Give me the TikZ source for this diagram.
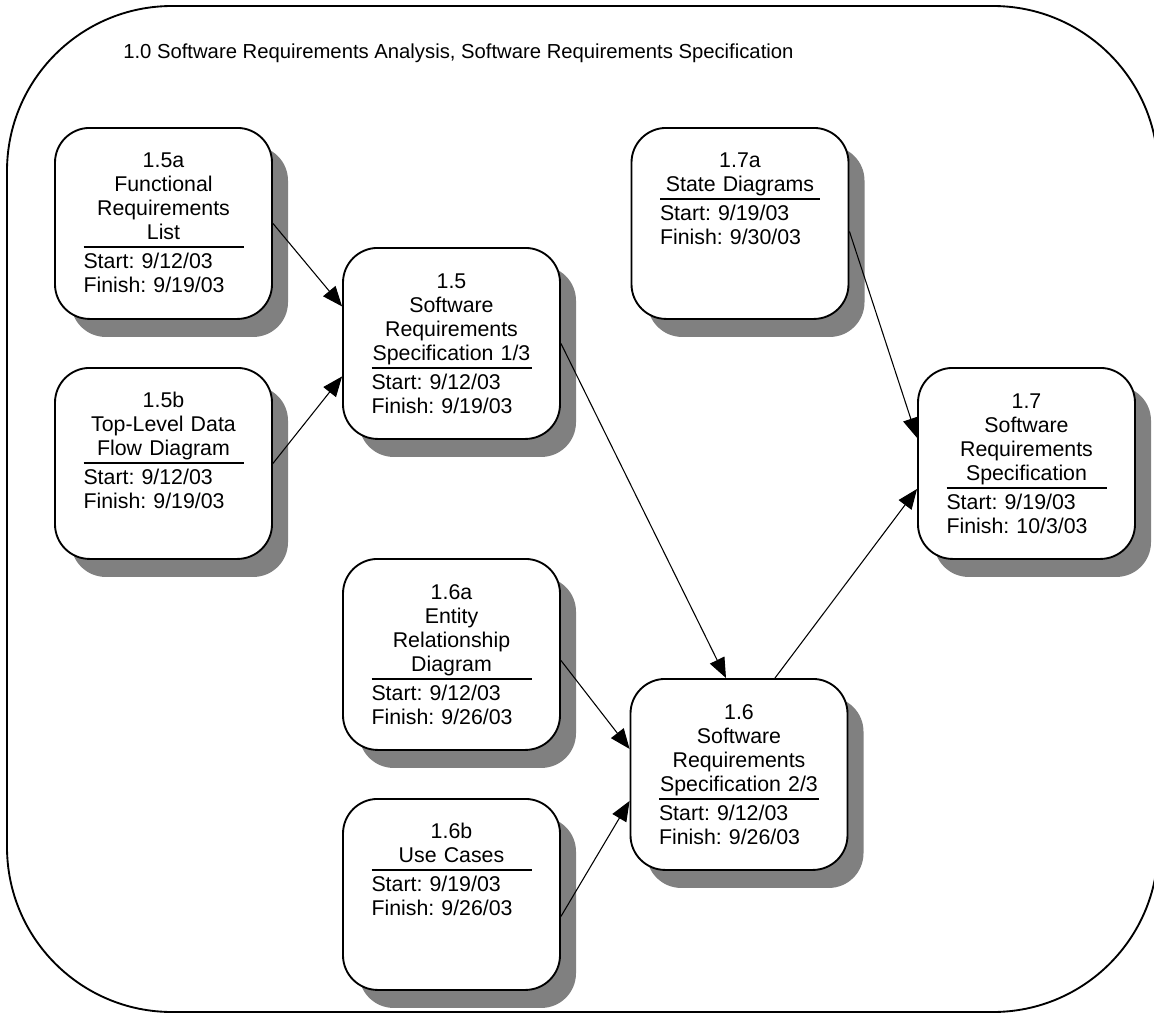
\documentclass[tikz,border=0pt]{standalone}
\usepackage{fontspec}
\setmainfont{Liberation Sans}
\usetikzlibrary{arrows.meta,shadows,calc}
\definecolor{shadowgray}{HTML}{808080}
\frenchspacing
\tikzset{
  taskbox/.style={draw=black, line width=1.4pt, fill=white, rounded corners=26pt,
    minimum width=162.75pt, minimum height=143.25pt, anchor=north, inner sep=0pt,
    drop shadow={shadow xshift=12pt, shadow yshift=-13.5pt, fill=shadowgray, opacity=1}},
  tasktitle/.style={anchor=south, inner sep=0pt, text width=120pt, align=center,
    font=\fontsize{16pt}{18pt}\selectfont},
  taskdates/.style={anchor=north, inner sep=0pt, text width=120pt, align=left,
    yshift=-3pt, font=\fontsize{16pt}{18pt}\selectfont},
  taskrule/.style={line width=1.3pt},
  conn/.style={line width=0.8pt, -{Triangle[length=15pt,width=12pt]}},
  frametitle/.style={anchor=base west, inner sep=0pt, font=\fontsize{15.2pt}{18pt}\selectfont}
}
\newcommand\pertask[7]{%
  \node[taskbox] (#1) at (#2,#3) {};
  \node[tasktitle] (#1t) at ($(#1.north)+(0,#4)$) {#5\strut};
  \node[taskdates] (#1d) at ($(#1.north)+(0,#4)$) {\strut Start: #6\\Finish: #7};
  \draw[taskrule] ($(#1.north)+(-80,#4)$) -- ($(#1.north)+(80,#4)$);
}
\begin{document}
\begin{tikzpicture}[x=0.75pt,y=-0.75pt]
\clip (0,0) rectangle (1154,1014);
\fill[white] (0,0) rectangle (1154,1014);
\draw[line width=1.4pt, rounded corners=123.75pt] (7,6) rectangle (1158,1012);
\node[frametitle] (title) at (123,58) {1.0 Software Requirements Analysis, Software Requirements Specification};

\pertask{b15a}{163.5}{127}{120}{1.5a\\Functional\\Requirements\\List}{9/12/03}{9/19/03}
\pertask{b15b}{163.5}{367}{96}{1.5b\\Top-Level Data\\Flow Diagram}{9/12/03}{9/19/03}
\pertask{b15}{451.5}{247}{121}{1.5\\Software\\Requirements\\Specification 1/3}{9/12/03}{9/19/03}
\pertask{b16a}{451.5}{558}{121}{1.6a\\Entity\\Relationship\\Diagram}{9/12/03}{9/26/03}
\pertask{b16b}{451.5}{798}{72}{1.6b\\Use Cases}{9/19/03}{9/26/03}
\pertask{b16}{739}{678}{121}{1.6\\Software\\Requirements\\Specification 2/3}{9/12/03}{9/26/03}
\pertask{b17a}{740}{127}{72}{1.7a\\State Diagrams}{9/19/03}{9/30/03}
\pertask{b17}{1026.5}{367}{121}{1.7\\Software\\Requirements\\Specification}{9/19/03}{10/3/03}

\draw[conn] (b15a.east) -- ($(b15.west)+(0,-37)$);
\draw[conn] (b15b.east) -- ($(b15.west)+(0,33)$);
\draw[conn] (b15.east) -- ($(b16.north)+(-13,0)$);
\draw[conn] ($(b16.north)+(36,0)$) -- ($(b17.west)+(0,25.5)$);
\draw[conn] ($(b17a.east)+(0,8)$) -- ($(b17.west)+(0,-25.5)$);
\draw[conn] ($(b16a.east)+(0,6)$) -- ($(b16.west)+(0,-25.5)$);
\draw[conn] ($(b16b.east)+(0,22)$) -- ($(b16.west)+(0,26.5)$);
\end{tikzpicture}
\end{document}
